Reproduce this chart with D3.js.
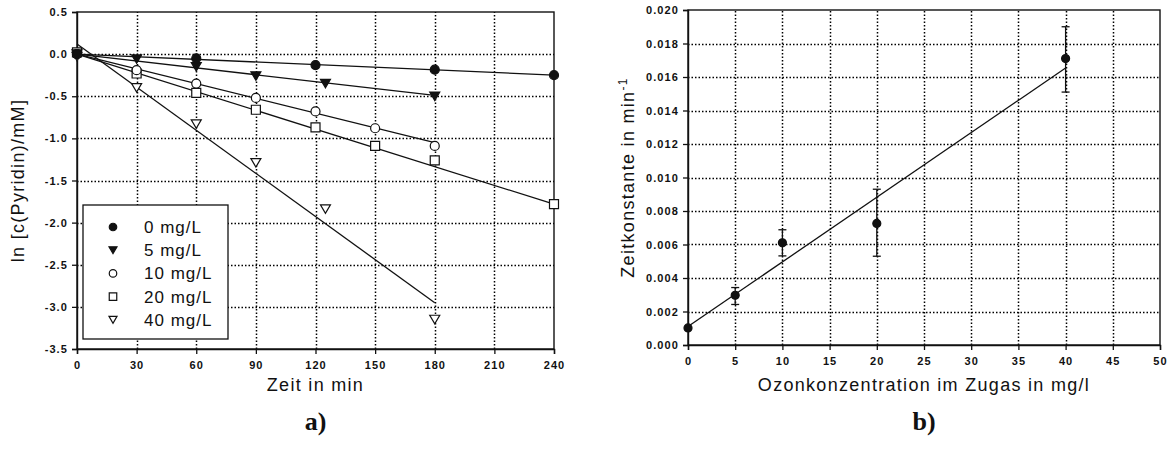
<!DOCTYPE html>
<html>
<head>
<meta charset="utf-8">
<script src="https://cdn.jsdelivr.net/npm/d3@7"></script>
<style>
  html, body { margin: 0; padding: 0; background: #fff; }
  svg { display: block; }
  .tick-label { font-family: "Liberation Sans", Arial, sans-serif; font-weight: bold; font-size: 11px; letter-spacing: 1.1px; fill: #111; }
  .axis-title { font-family: "Liberation Sans", Arial, sans-serif; font-size: 18px; letter-spacing: 1.3px; fill: #111; }
  .legend-text { font-family: "Liberation Sans", Arial, sans-serif; font-size: 17px; letter-spacing: 1px; fill: #111; }
  .panel-label { font-family: "Liberation Serif", "Times New Roman", serif; font-weight: bold; font-size: 26px; fill: #111; }
</style>
</head>
<body>
<svg id="chart" width="1169" height="459"></svg>
<script>
// ---- Panel a: ln concentration of pyridine vs. time, one series per ozone level ----
const seriesNames = ["0 mg/L", "5 mg/L", "10 mg/L", "20 mg/L", "40 mg/L"];
const seriesSymbols = ["circleFilled", "triangleFilled", "circleOpen", "squareOpen", "triangleOpen"];

const times0 = [0, 60, 120, 180, 240];
const values0 = [0.0, -0.05, -0.13, -0.185, -0.25];

const times5 = [0, 30, 60, 90, 125, 180];
const values5 = [0.0, -0.06, -0.15, -0.26, -0.35, -0.50];

const times10 = [0, 30, 60, 90, 120, 150, 180];
const values10 = [0.0, -0.19, -0.35, -0.52, -0.68, -0.88, -1.09];

const times20 = [0, 30, 60, 90, 120, 150, 180, 240];
const values20 = [0.02, -0.23, -0.46, -0.66, -0.87, -1.09, -1.26, -1.78];

const times40 = [0, 30, 60, 90, 125, 180];
const values40 = [-0.03, -0.40, -0.83, -1.29, -1.84, -3.15];

// linear regression lines: ln c = intercept + slope * t, drawn from 0 to fitEnd
const fitIntercepts = [0.0, 0.0, 0.0, 0.0, 0.12];
const fitSlopes = [-0.00104, -0.00272, -0.00583, -0.00742, -0.01706];
const fitEnds = [240, 180, 180, 240, 180];

const xTicksA = [0, 30, 60, 90, 120, 150, 180, 210, 240];
const yTicksA = [0.5, 0.0, -0.5, -1.0, -1.5, -2.0, -2.5, -3.0, -3.5];

// ---- Panel b: rate constant vs. ozone concentration ----
const ozone = [0, 5, 10, 20, 40];
const rateK = [0.00102, 0.00297, 0.0061, 0.00726, 0.0171];
const rateLow = [0.00102, 0.00242, 0.00532, 0.0053, 0.0151];
const rateHigh = [0.00102, 0.00343, 0.00688, 0.0093, 0.0190];
const fitBIntercept = 0.0011;
const fitBSlope = 0.000386;
const fitBEnd = 40;

const xTicksB = [0, 5, 10, 15, 20, 25, 30, 35, 40, 45, 50];
const yTicksB = [0.000, 0.002, 0.004, 0.006, 0.008, 0.010, 0.012, 0.014, 0.016, 0.018, 0.020];

const svg = d3.select("#chart");
svg.append("rect").attr("width", 1169).attr("height", 459).attr("fill", "#fff");

const ink = "#111";
// plain hyphen for negative numbers, as on the printed axis
const fmtA = v => d3.format(".1f")(v).replace("\u2212", "-");
const fmtB = v => d3.format(".3f")(v);

function drawFrame(g, x, y, xTicks, yTicks, xFmt, yFmt) {
  const [x0, x1] = x.range();
  const [y0, y1] = y.range(); // y0 bottom, y1 top

  // dotted grid
  g.append("g").selectAll("line").data(xTicks.slice(1, -1)).join("line")
    .attr("x1", d => Math.round(x(d)) + 0.5).attr("x2", d => Math.round(x(d)) + 0.5).attr("y1", y0).attr("y2", y1)
    .attr("stroke", "#000").attr("stroke-width", 1.5).attr("stroke-dasharray", "1.5,2");
  g.append("g").selectAll("line").data(yTicks.slice(1, -1)).join("line")
    .attr("x1", x0).attr("x2", x1).attr("y1", d => Math.round(y(d)) + 0.5).attr("y2", d => Math.round(y(d)) + 0.5)
    .attr("stroke", "#000").attr("stroke-width", 1.5).attr("stroke-dasharray", "1.5,2");

  // box
  g.append("rect").attr("x", x0).attr("y", y1).attr("width", x1 - x0).attr("height", y0 - y1)
    .attr("fill", "none").attr("stroke", ink).attr("stroke-width", 1.4);

  const xAxis = d3.axisBottom(x).tickValues(xTicks).tickFormat(xFmt).tickSize(5).tickPadding(7);
  const gx = g.append("g").attr("transform", `translate(0,${y0})`).call(xAxis);
  const yAxis = d3.axisLeft(y).tickValues(yTicks).tickFormat(yFmt).tickSize(5).tickPadding(4);
  const gy = g.append("g").attr("transform", `translate(${x0},0)`).call(yAxis);
  [gx, gy].forEach(a => {
    a.select(".domain").attr("stroke", ink).attr("stroke-width", 1.4);
    a.selectAll(".tick line").attr("stroke", ink).attr("stroke-width", 1.3);
    a.selectAll(".tick text").attr("class", "tick-label").attr("font-size", null).attr("font-family", null).attr("fill", null);
  });
}

function symbolPath(kind, size) {
  const s = size;
  if (kind.startsWith("circle")) {
    return d3.symbol(d3.symbolCircle, s * s * Math.PI / 4)();
  }
  if (kind.startsWith("square")) {
    const h = s / 2;
    return `M${-h},${-h}H${h}V${h}H${-h}Z`;
  }
  // downward pointing triangle centred on its bounding box
  const h = s / 2;
  return `M${-h},${-h * 0.85}L${h},${-h * 0.85}L0,${h * 0.85}Z`;
}

function drawSymbol(g, kind, cx, cy, size) {
  const filled = kind.endsWith("Filled");
  g.append("path").attr("d", symbolPath(kind, size))
    .attr("transform", `translate(${cx},${cy})`)
    .attr("fill", filled ? ink : "#fff")
    .attr("stroke", ink).attr("stroke-width", 1.2);
}

// ===== Panel a =====
const gA = svg.append("g");
const xA = d3.scaleLinear().domain([0, 240]).range([77, 554]);
const yA = d3.scaleLinear().domain([-3.5, 0.5]).range([349, 12]);
drawFrame(gA, xA, yA, xTicksA, yTicksA, d3.format("d"), fmtA);

const allTimes = [times0, times5, times10, times20, times40];
const allValues = [values0, values5, values10, values20, values40];

// regression lines
seriesNames.forEach((name, i) => {
  gA.append("line")
    .attr("x1", xA(0)).attr("y1", yA(fitIntercepts[i]))
    .attr("x2", xA(fitEnds[i])).attr("y2", yA(fitIntercepts[i] + fitSlopes[i] * fitEnds[i]))
    .attr("stroke", ink).attr("stroke-width", 1.3);
});

// data markers (last series first so the points stacked at t=0 overlap in order)
[4, 3, 2, 1, 0].forEach(i => {
  allTimes[i].forEach((t, j) => {
    const size = seriesSymbols[i].startsWith("triangle") ? 10 : 9;
    drawSymbol(gA, seriesSymbols[i], xA(t), yA(allValues[i][j]), size);
  });
});

// legend
const legend = gA.append("g");
legend.append("rect").attr("x", 83).attr("y", 205).attr("width", 145).attr("height", 134)
  .attr("fill", "#fff").attr("stroke", ink).attr("stroke-width", 1.3);
seriesNames.forEach((name, i) => {
  const cy = 227 + i * 23.2;
  drawSymbol(legend, seriesSymbols[i], 113, cy, seriesSymbols[i].startsWith("triangle") ? 8 : 7.5);
  legend.append("text").attr("class", "legend-text").attr("x", 144).attr("y", cy + 6).text(name);
});

// titles
gA.append("text").attr("class", "axis-title").attr("text-anchor", "middle")
  .attr("transform", `translate(24,${(yA(0.5) + yA(-3.5)) / 2}) rotate(-90)`)
  .text("ln [c(Pyridin)/mM]");
gA.append("text").attr("class", "axis-title").attr("text-anchor", "middle")
  .attr("x", (xA(0) + xA(240)) / 2).attr("y", 391).text("Zeit in min");
gA.append("text").attr("class", "panel-label").attr("text-anchor", "middle")
  .attr("x", (xA(0) + xA(240)) / 2).attr("y", 430).text("a)");

// ===== Panel b =====
const gB = svg.append("g");
const xB = d3.scaleLinear().domain([0, 50]).range([688, 1160]);
const yB = d3.scaleLinear().domain([0, 0.02]).range([345, 10]);
drawFrame(gB, xB, yB, xTicksB, yTicksB, d3.format("d"), fmtB);

// regression line
gB.append("line")
  .attr("x1", xB(0)).attr("y1", yB(fitBIntercept))
  .attr("x2", xB(fitBEnd)).attr("y2", yB(fitBIntercept + fitBSlope * fitBEnd))
  .attr("stroke", ink).attr("stroke-width", 1.3);

// error bars
ozone.forEach((c, i) => {
  if (rateHigh[i] - rateLow[i] <= 0) return;
  const x = xB(c);
  gB.append("line").attr("x1", x).attr("x2", x).attr("y1", yB(rateLow[i])).attr("y2", yB(rateHigh[i]))
    .attr("stroke", ink).attr("stroke-width", 1.3);
  [rateLow[i], rateHigh[i]].forEach(v => {
    gB.append("line").attr("x1", x - 4).attr("x2", x + 4).attr("y1", yB(v)).attr("y2", yB(v))
      .attr("stroke", ink).attr("stroke-width", 1.3);
  });
});
ozone.forEach((c, i) => drawSymbol(gB, "circleFilled", xB(c), yB(rateK[i]), 8));

// titles
const yTitleB = gB.append("text").attr("class", "axis-title").attr("text-anchor", "middle")
  .attr("transform", `translate(634,${(yB(0) + yB(0.02)) / 2}) rotate(-90)`);
yTitleB.append("tspan").text("Zeitkonstante in min");
yTitleB.append("tspan").attr("dy", -7).attr("font-size", 12).text("-1");
gB.append("text").attr("class", "axis-title").attr("text-anchor", "middle")
  .attr("x", (xB(0) + xB(50)) / 2).attr("y", 391).text("Ozonkonzentration im Zugas in mg/l");
gB.append("text").attr("class", "panel-label").attr("text-anchor", "middle")
  .attr("x", (xB(0) + xB(50)) / 2).attr("y", 430).text("b)");
</script>
</body>
</html>
